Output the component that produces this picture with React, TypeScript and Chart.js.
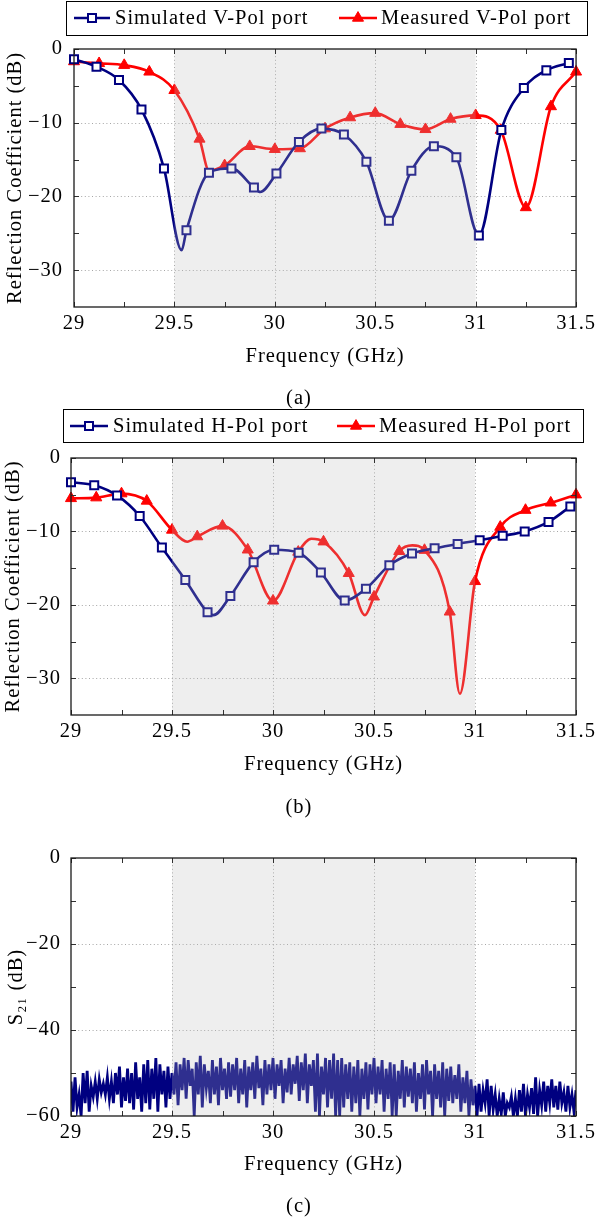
import React, { useEffect, useRef } from "react";
import { Chart, registerables } from "chart.js";

Chart.register(...registerables);

const FONT_FAMILY = '"Liberation Serif", "Times New Roman", serif';
const FONT_SIZE = 20.5;
const NAVY = "#000080";
const RED = "#ff0000";

// ---- axes ----
const X_MIN = 29;
const X_MAX = 31.5;
const X_TICKS = [29, 29.5, 30, 30.5, 31, 31.5];
const X_MINOR = [29.25, 29.75, 30.25, 30.75, 31.25];
const X_GRID = [29.5, 30, 30.5, 31];
const BAND = [29.5, 31];

const RC_MIN = -35;
const RC_MAX = 0;
const RC_TICKS = [0, -10, -20, -30];
const RC_MINOR = [-5, -15, -25];
const RC_GRID = [-10, -20, -30];

const S21_MIN = -60;
const S21_MAX = 0;
const S21_TICKS = [0, -20, -40, -60];
const S21_MINOR = [-10, -30, -50];
const S21_GRID = [-20, -40];

// ---- (a) V-Pol ----
const A_SIM_F = [29, 29.112, 29.224, 29.336, 29.448, 29.56, 29.672, 29.784, 29.896, 30.008, 30.12, 30.232, 30.344, 30.456, 30.568, 30.68, 30.792, 30.904, 31.016, 31.128, 31.24, 31.352, 31.464];
const A_SIM_DB = [-1.4, -2.4, -4.2, -8.2, -16.2, -24.6, -16.8, -16.2, -18.8, -16.9, -12.6, -10.8, -11.6, -15.3, -23.3, -16.5, -13.2, -14.7, -25.3, -11.0, -5.3, -2.9, -1.9];
// curve-only points (no marker)
const A_SIM_CURVE_F = [29.536, 29.927];
const A_SIM_CURVE_DB = [-27.3, -19.4];

const A_MEAS_F = [29, 29.125, 29.25, 29.375, 29.5, 29.625, 29.75, 29.875, 30, 30.125, 30.25, 30.375, 30.5, 30.625, 30.75, 30.875, 31, 31.125, 31.25, 31.375, 31.5];
const A_MEAS_DB = [-1.7, -1.95, -2.2, -3.1, -5.6, -12.2, -15.8, -13.2, -13.6, -13.5, -10.8, -9.3, -8.7, -10.2, -10.9, -9.5, -9.0, -11.0, -21.5, -7.8, -3.1];
const A_MEAS_CURVE_F = [29.672];
const A_MEAS_CURVE_DB = [-16.5];

// ---- (b) H-Pol ----
const B_SIM_F = [29, 29.115, 29.228, 29.34, 29.45, 29.566, 29.676, 29.789, 29.904, 30.006, 30.127, 30.237, 30.355, 30.46, 30.576, 30.688, 30.8, 30.914, 31.023, 31.137, 31.246, 31.364, 31.472];
const B_SIM_DB = [-3.3, -3.7, -5.1, -7.9, -12.2, -16.6, -21.0, -18.8, -14.2, -12.5, -12.9, -15.6, -19.4, -17.8, -14.6, -13.0, -12.3, -11.7, -11.2, -10.6, -10.0, -8.7, -6.6];
const B_SIM_CURVE_F = [29.705];
const B_SIM_CURVE_DB = [-21.4];

const B_MEAS_F = [29, 29.125, 29.25, 29.375, 29.5, 29.625, 29.75, 29.875, 30, 30.125, 30.25, 30.375, 30.5, 30.625, 30.75, 30.875, 31, 31.125, 31.25, 31.375, 31.5];
const B_MEAS_DB = [-5.5, -5.4, -4.85, -5.85, -9.8, -10.7, -9.25, -12.5, -19.45, -12.8, -11.4, -15.7, -18.9, -12.7, -12.55, -20.95, -16.8, -9.4, -7.1, -6.1, -5.0];
const B_MEAS_CURVE_F = [29.575, 30.19, 30.455, 30.69, 30.925];
const B_MEAS_CURVE_DB = [-11.4, -11.0, -21.4, -11.9, -32.1];

// ---- (c) S21 ----
const C_F_START = 29;
const C_F_STEP = 0.01;
const C_S21_DB = [
  -52, -59, -51, -58, -55, -60, -50, -57, -49.5, -59,
  -53, -55.5, -52, -56, -51.5, -54.5, -52.5, -55, -51, -56,
  -52, -57, -50, -55, -48.5, -58, -51, -56.5, -49, -57,
  -50, -58.5, -47.5, -56, -51, -59, -48, -57, -47, -58.5,
  -49, -56, -46.5, -59, -48, -55, -49.5, -58, -48.5, -56,
  -50, -55, -47.5, -57.5, -48, -54, -46.5, -56, -47, -53,
  -49, -60, -47.5, -55, -46, -58, -48, -53.5, -49.5, -57,
  -47, -55, -48.5, -57.5, -46.5, -54, -49, -56, -47.5, -55.5,
  -48, -54, -46.5, -57, -49, -55, -47, -58, -48.5, -54,
  -47.5, -56, -46, -53.5, -49, -57.5, -47, -55, -48, -54,
  -46.5, -56, -48, -53, -47, -57, -49, -54.5, -46.5, -55,
  -48, -52.5, -46, -56.5, -47.5, -54, -45.5, -57, -48, -53,
  -47, -59, -45.5, -60, -48.5, -55, -46.5, -58, -47, -56,
  -45.5, -60, -47, -60, -46.5, -58, -48, -56, -47.5, -59,
  -48.5, -57, -47, -60, -49, -56, -47.5, -58.5, -48, -55,
  -46.5, -57, -48.5, -55, -47, -59, -49, -56, -47.5, -60,
  -48, -60, -49.5, -56, -47, -58, -48.5, -55.5, -49, -57,
  -47.5, -59, -50, -56, -48, -58.5, -47, -55, -49.5, -60,
  -48, -56, -49.5, -58, -47.5, -60, -49, -56.5, -48.5, -57,
  -50.5, -56, -48, -59, -51, -57, -49.5, -60, -51.5, -57.5,
  -53, -60, -52.5, -59, -54, -57, -51.5, -60, -53, -58.5,
  -55, -60, -56, -59.5, -54.5, -60, -57, -58, -55.5, -60,
  -56, -60, -54, -59, -52.5, -60, -55, -58, -53.5, -59.5,
  -51, -60, -54, -57.5, -52, -59, -53, -57, -51.5, -58,
  -53, -58.5, -52, -57, -54.5, -59, -53, -58, -55, -59,
  -54,
];

type Pt = { x: number; y: number; m: boolean };

function series(f: number[], db: number[], cf: number[], cdb: number[]): Pt[] {
  const pts: Pt[] = f.map((x, i) => ({ x, y: db[i], m: true }));
  cf.forEach((x, i) => pts.push({ x, y: cdb[i], m: false }));
  pts.sort((p, q) => p.x - q.x);
  return pts;
}

const fmt = (v: any) => {
  const n = Number(v);
  return n < 0 ? "\u2212" + String(Math.abs(n)) : String(n);
};

interface Frame {
  h: number;
  left: number;
  right: number;
  top: number;
  bottom: number;
  xTitleY: number;
  yTitleX: number;
  yLabelRight: number;
}

const SQ_R = 5.66;
const TRI_R = 6.4;

function drawSquare(ctx: CanvasRenderingContext2D, x: number, y: number) {
  ctx.save();
  ctx.setLineDash([]);
  ctx.fillStyle = "#ffffff";
  ctx.strokeStyle = NAVY;
  ctx.lineWidth = 2;
  ctx.beginPath();
  ctx.rect(x - 4, y - 4, 8, 8);
  ctx.fill();
  ctx.stroke();
  ctx.restore();
}

function drawTriangle(ctx: CanvasRenderingContext2D, x: number, y: number) {
  const r = TRI_R;
  ctx.save();
  ctx.setLineDash([]);
  ctx.fillStyle = RED;
  ctx.strokeStyle = RED;
  ctx.lineWidth = 1;
  ctx.beginPath();
  ctx.moveTo(x, y - r);
  ctx.lineTo(x + r * 0.866, y + r / 2);
  ctx.lineTo(x - r * 0.866, y + r / 2);
  ctx.closePath();
  ctx.fill();
  ctx.stroke();
  ctx.restore();
}

const paperPlugin = {
  id: "paper",
  beforeDraw(chart: any) {
    chart.ctx.letterSpacing = "1px";
  },
  beforeDatasetsDraw(chart: any, _args: any, o: any) {
    const { ctx, chartArea: a, scales } = chart;
    const xs = scales.x;
    const ys = scales.y;
    ctx.save();
    ctx.strokeStyle = "#9c9c9c";
    ctx.lineWidth = 0.9;
    ctx.setLineDash([1, 2.6]);
    for (const v of o.xGrid) {
      const p = Math.round(xs.getPixelForValue(v)) + 0.5;
      ctx.beginPath();
      ctx.moveTo(p, a.top);
      ctx.lineTo(p, a.bottom);
      ctx.stroke();
    }
    for (const v of o.yGrid) {
      const p = Math.round(ys.getPixelForValue(v)) + 0.5;
      ctx.beginPath();
      ctx.moveTo(a.left, p);
      ctx.lineTo(a.right, p);
      ctx.stroke();
    }
    ctx.restore();
  },
  afterDatasetsDraw(chart: any, _args: any, o: any) {
    const { ctx, chartArea: a, scales } = chart;
    const xs = scales.x;
    const ys = scales.y;
    ctx.save();
    // shaded band (drawn over the traces, semi-transparent)
    const b0 = xs.getPixelForValue(BAND[0]);
    const b1 = xs.getPixelForValue(BAND[1]);
    ctx.fillStyle = "rgba(186,186,186,0.25)";
    ctx.fillRect(b0, a.top, b1 - b0, a.bottom - a.top);
    // inward ticks on all four sides
    ctx.strokeStyle = "#303030";
    ctx.lineWidth = 1;
    ctx.setLineDash([]);
    const tl = 5;
    for (const v of [...X_TICKS, ...X_MINOR]) {
      const p = Math.round(xs.getPixelForValue(v)) + 0.5;
      ctx.beginPath();
      ctx.moveTo(p, a.bottom);
      ctx.lineTo(p, a.bottom - tl);
      ctx.moveTo(p, a.top);
      ctx.lineTo(p, a.top + tl);
      ctx.stroke();
    }
    for (const v of [...o.yTicks, ...o.yMinor]) {
      const p = Math.round(ys.getPixelForValue(v)) + 0.5;
      ctx.beginPath();
      ctx.moveTo(a.left, p);
      ctx.lineTo(a.left + tl, p);
      ctx.moveTo(a.right, p);
      ctx.lineTo(a.right - tl, p);
      ctx.stroke();
    }
    // frame
    ctx.strokeStyle = "#1a1a1a";
    ctx.lineWidth = 1.3;
    ctx.strokeRect(a.left, a.top, a.right - a.left, a.bottom - a.top);
    ctx.restore();
  },
  afterDraw(chart: any, _args: any, o: any) {
    const L = o.legend;
    if (!L) return;
    const ctx = chart.ctx as CanvasRenderingContext2D;
    ctx.save();
    ctx.setLineDash([]);
    ctx.fillStyle = "#ffffff";
    ctx.fillRect(L.x1, L.y1, L.x2 - L.x1, L.y2 - L.y1);
    ctx.strokeStyle = "#000000";
    ctx.lineWidth = 1;
    ctx.strokeRect(L.x1 + 0.5, L.y1 + 0.5, L.x2 - L.x1, L.y2 - L.y1);
    for (const it of L.items) {
      const ds = chart.data.datasets[it.ds];
      ctx.strokeStyle = ds.borderColor;
      ctx.lineWidth = ds.borderWidth;
      ctx.beginPath();
      ctx.moveTo(it.l1, L.cy);
      ctx.lineTo(it.l2, L.cy);
      ctx.stroke();
      if (it.marker === "rect") drawSquare(ctx, it.mx, L.cy);
      else drawTriangle(ctx, it.mx, L.cy);
      ctx.fillStyle = "#000000";
      ctx.font = `${FONT_SIZE}px ${FONT_FAMILY}`;
      (ctx as any).letterSpacing = "1px";
      ctx.textAlign = "left";
      ctx.textBaseline = "middle";
      ctx.fillText(it.text, it.tx, L.cy + 1);
    }
    ctx.restore();
  },
};

function makeScales(fr: Frame, yMin: number, yMax: number, yTicks: number[], yTitle: string) {
  const font = { family: FONT_FAMILY, size: FONT_SIZE, lineHeight: 1.2 };
  const titleFont = { family: FONT_FAMILY, size: FONT_SIZE, lineHeight: 1 };
  return {
    x: {
      type: "linear",
      min: X_MIN,
      max: X_MAX,
      afterBuildTicks: (s: any) => {
        s.ticks = X_TICKS.map((value) => ({ value }));
      },
      afterFit: (s: any) => {
        s.height = fr.xTitleY + FONT_SIZE / 2 - fr.bottom;
      },
      ticks: { font, color: "#000", padding: 4, maxRotation: 0, minRotation: 0, autoSkip: false, callback: fmt },
      grid: { display: false, drawTicks: false },
      border: { display: false },
      title: { display: true, text: "Frequency (GHz)", font: titleFont, color: "#000", padding: 0 },
    },
    y: {
      type: "linear",
      min: yMin,
      max: yMax,
      afterBuildTicks: (s: any) => {
        s.ticks = yTicks.map((value) => ({ value }));
      },
      afterFit: (s: any) => {
        s.width = fr.left;
      },
      ticks: { font, color: "#000", padding: fr.left - fr.yLabelRight, autoSkip: false, callback: fmt },
      grid: { display: false, drawTicks: false },
      border: { display: false },
      title: {
        display: true,
        text: yTitle,
        font: titleFont,
        color: "#000",
        padding: { top: fr.yTitleX - FONT_SIZE / 2, bottom: 0 },
      },
    },
  };
}

function layoutPadding(fr: Frame) {
  return {
    left: 0,
    top: fr.top,
    right: 598 - fr.right,
    bottom: fr.h - (fr.xTitleY + FONT_SIZE / 2),
  };
}

const markerRadius = (r: number) => (c: any) => (c.raw && c.raw.m ? r : 0);

function rcConfig(fr: Frame, sim: Pt[], meas: Pt[], simLabel: string, measLabel: string, legend: any) {
  return {
    type: "line",
    data: {
      datasets: [
        {
          label: simLabel,
          data: sim,
          borderColor: NAVY,
          borderWidth: 2.6,
          cubicInterpolationMode: "monotone",
          pointStyle: "rect",
          pointRadius: markerRadius(SQ_R),
          pointBorderWidth: 2,
          pointBorderColor: NAVY,
          pointBackgroundColor: "#ffffff",
          clip: false,
        },
        {
          label: measLabel,
          data: meas,
          borderColor: RED,
          borderWidth: 2.6,
          cubicInterpolationMode: "monotone",
          pointStyle: "triangle",
          pointRadius: markerRadius(TRI_R),
          pointBorderWidth: 1,
          pointBorderColor: RED,
          pointBackgroundColor: RED,
          clip: false,
        },
      ],
    },
    options: {
      responsive: false,
      animation: false,
      devicePixelRatio: 1,
      parsing: true,
      layout: { padding: layoutPadding(fr) },
      scales: makeScales(fr, RC_MIN, RC_MAX, RC_TICKS, "Reflection Coefficient (dB)"),
      plugins: {
        legend: { display: false },
        tooltip: { enabled: false },
        paper: { xGrid: X_GRID, yGrid: RC_GRID, yTicks: RC_TICKS, yMinor: RC_MINOR, legend },
      },
    },
    plugins: [paperPlugin],
  } as any;
}

const FRAME_A: Frame = { h: 405, left: 74, right: 579, top: 49, bottom: 307, xTitleY: 357, yTitleX: 16, yLabelRight: 63 };
const FRAME_B: Frame = { h: 415, left: 71, right: 576, top: 53, bottom: 310, xTitleY: 360, yTitleX: 14, yLabelRight: 61 };
const FRAME_C: Frame = { h: 400, left: 71, right: 576, top: 38, bottom: 296, xTitleY: 345, yTitleX: 17, yLabelRight: 61 };

const LEGEND_A = {
  x1: 66, y1: 1, x2: 587, y2: 35, cy: 18,
  items: [
    { ds: 0, marker: "rect", l1: 74, l2: 110, mx: 92, tx: 115, text: "Simulated V-Pol port" },
    { ds: 1, marker: "triangle", l1: 339, l2: 377, mx: 358, tx: 381, text: "Measured V-Pol port" },
  ],
};
const LEGEND_B = {
  x1: 63, y1: 4, x2: 583, y2: 37, cy: 21,
  items: [
    { ds: 0, marker: "rect", l1: 70, l2: 108, mx: 89, tx: 113, text: "Simulated H-Pol port" },
    { ds: 1, marker: "triangle", l1: 337, l2: 375, mx: 356, tx: 379, text: "Measured H-Pol port" },
  ],
};

function s21Config(fr: Frame) {
  const data = C_S21_DB.map((y, i) => ({ x: C_F_START + i * C_F_STEP, y }));
  return {
    type: "line",
    data: {
      datasets: [
        {
          label: "S21",
          data,
          borderColor: NAVY,
          borderWidth: 2.8,
          pointRadius: 0,
          tension: 0,
        },
      ],
    },
    options: {
      responsive: false,
      animation: false,
      devicePixelRatio: 1,
      layout: { padding: layoutPadding(fr) },
      scales: makeScales(fr, S21_MIN, S21_MAX, S21_TICKS, "S\u2082\u2081 (dB)"),
      plugins: {
        legend: { display: false },
        tooltip: { enabled: false },
        paper: { xGrid: X_GRID, yGrid: S21_GRID, yTicks: S21_TICKS, yMinor: S21_MINOR, legend: null },
      },
    },
    plugins: [paperPlugin],
  } as any;
}

const captionStyle = (cy: number): React.CSSProperties => ({
  position: "absolute",
  left: 0,
  width: 598,
  top: cy - 12,
  height: 24,
  lineHeight: "24px",
  textAlign: "center",
  fontFamily: FONT_FAMILY,
  fontSize: FONT_SIZE,
  letterSpacing: "1px",
  color: "#000",
});

export default function App() {
  const refA = useRef<HTMLCanvasElement>(null);
  const refB = useRef<HTMLCanvasElement>(null);
  const refC = useRef<HTMLCanvasElement>(null);

  useEffect(() => {
    const charts: Chart[] = [];
    if (refA.current)
      charts.push(
        new Chart(
          refA.current,
          rcConfig(
            FRAME_A,
            series(A_SIM_F, A_SIM_DB, A_SIM_CURVE_F, A_SIM_CURVE_DB),
            series(A_MEAS_F, A_MEAS_DB, A_MEAS_CURVE_F, A_MEAS_CURVE_DB),
            "Simulated V-Pol port",
            "Measured V-Pol port",
            LEGEND_A
          )
        )
      );
    if (refB.current)
      charts.push(
        new Chart(
          refB.current,
          rcConfig(
            FRAME_B,
            series(B_SIM_F, B_SIM_DB, B_SIM_CURVE_F, B_SIM_CURVE_DB),
            series(B_MEAS_F, B_MEAS_DB, B_MEAS_CURVE_F, B_MEAS_CURVE_DB),
            "Simulated H-Pol port",
            "Measured H-Pol port",
            LEGEND_B
          )
        )
      );
    if (refC.current) charts.push(new Chart(refC.current, s21Config(FRAME_C)));
    return () => charts.forEach((c) => c.destroy());
  }, []);

  const canvasStyle = (top: number, h: number): React.CSSProperties => ({
    position: "absolute",
    left: 0,
    top,
    width: 598,
    height: h,
    display: "block",
  });

  return (
    <div style={{ position: "absolute", left: 0, top: 0, width: 598, height: 1220, background: "#ffffff", overflow: "hidden" }}>
      <canvas ref={refA} width={598} height={FRAME_A.h} style={canvasStyle(0, FRAME_A.h)} />
      <canvas ref={refB} width={598} height={FRAME_B.h} style={canvasStyle(405, FRAME_B.h)} />
      <canvas ref={refC} width={598} height={FRAME_C.h} style={canvasStyle(820, FRAME_C.h)} />
      <div style={captionStyle(397)}>(a)</div>
      <div style={captionStyle(806)}>(b)</div>
      <div style={captionStyle(1205)}>(c)</div>
    </div>
  );
}
